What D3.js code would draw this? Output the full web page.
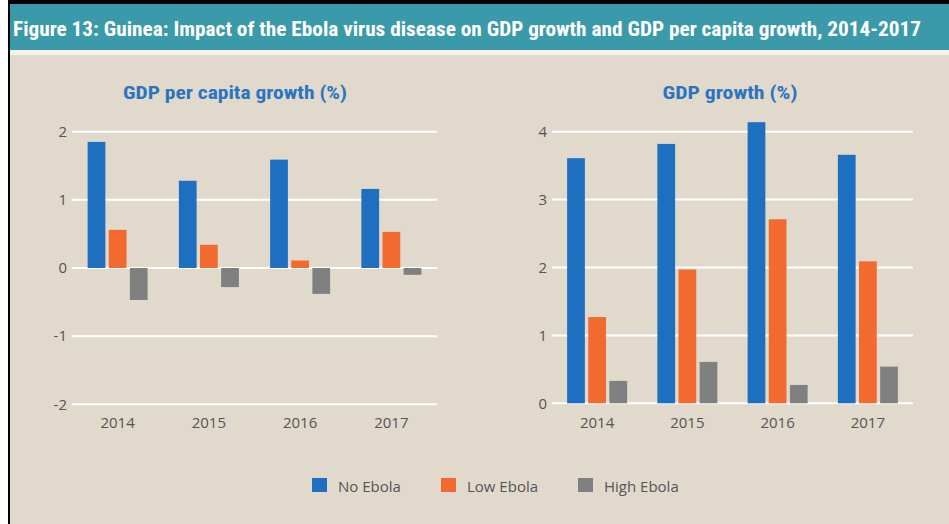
<!DOCTYPE html>
<html>
<head>
<meta charset="utf-8">
<script src="https://cdn.jsdelivr.net/npm/d3@7"></script>
<style>
html,body{margin:0;padding:0;background:#fff;}
svg{display:block;}
</style>
</head>
<body>
<svg id="chart" width="949" height="524"></svg>
<script>
const years = ["2014", "2015", "2016", "2017"];
const seriesNames = ["No Ebola", "Low Ebola", "High Ebola"];
const seriesColors = ["#1f6fc0", "#f26a30", "#808080"];

const perCapitaNoEbola = [1.85, 1.28, 1.59, 1.16];
const perCapitaLowEbola = [0.56, 0.34, 0.11, 0.53];
const perCapitaHighEbola = [-0.47, -0.28, -0.38, -0.10];

const gdpNoEbola = [3.61, 3.82, 4.14, 3.66];
const gdpLowEbola = [1.27, 1.97, 2.71, 2.09];
const gdpHighEbola = [0.33, 0.61, 0.27, 0.54];

const perCapitaTicks = [-2, -1, 0, 1, 2];
const gdpTicks = [0, 1, 2, 3, 4];

const figTitle = "Figure 13: Guinea: Impact of the Ebola virus disease on GDP growth and GDP per capita growth, 2014-2017";
const leftTitle = "GDP per capita growth (%)";
const rightTitle = "GDP growth (%)";

const svg = d3.select("#chart");

// Background panel
svg.append("rect").attr("x", 8).attr("y", 0).attr("width", 941).attr("height", 524).attr("fill", "#000");
svg.append("rect").attr("x", 10).attr("y", 52).attr("width", 939).attr("height", 472).attr("fill", "#e0d9cc");
svg.append("rect").attr("x", 10).attr("y", 50).attr("width", 939).attr("height", 5).attr("fill", "#f4f1ea");
svg.append("rect").attr("x", 10).attr("y", 4).attr("width", 939).attr("height", 46).attr("fill", "#3b9aa9");

svg.append("text")
  .attr("x", 13).attr("y", 36)
  .attr("font-family", "'Liberation Sans Narrow', 'Roboto Condensed', 'DejaVu Sans Condensed', sans-serif")
  .attr("font-weight", "bold")
  .attr("font-size", 21)
  .attr("fill", "#ffffff")
  .attr("textLength", 908)
  .attr("lengthAdjust", "spacingAndGlyphs")
  .text(figTitle);

function drawPanel(cfg) {
  const g = svg.append("g");
  const y = d3.scaleLinear().domain(cfg.domain).range([cfg.bottom, cfg.top]);
  const x0 = d3.scaleBand().domain(years).range([cfg.left, cfg.right]).paddingInner(0).paddingOuter(0);
  const groupW = 60;
  const x1 = d3.scaleBand().domain(seriesNames).range([0, groupW]).paddingInner(0.16).paddingOuter(0);

  // gridlines
  g.selectAll("line.grid").data(cfg.ticks).enter().append("line")
    .attr("x1", cfg.left).attr("x2", cfg.right)
    .attr("y1", d => y(d)).attr("y2", d => y(d))
    .attr("stroke", "#ffffff").attr("stroke-width", 2);

  // y axis labels
  const yAxis = d3.axisLeft(y).tickValues(cfg.ticks).tickSize(0).tickPadding(5).tickFormat(d => String(d));
  const ya = g.append("g").attr("transform", `translate(${cfg.left},0)`).call(yAxis);
  ya.select(".domain").remove();
  ya.selectAll("text").attr("font-family", "'Open Sans', sans-serif").attr("font-size", 15).attr("fill", "#555");

  // x axis labels
  const xAxis = d3.axisBottom(x0).tickSize(0).tickPadding(0);
  const xa = g.append("g").attr("transform", `translate(0,${cfg.xLabelY})`).call(xAxis);
  xa.select(".domain").remove();
  xa.selectAll("text").attr("font-family", "'Open Sans', sans-serif").attr("font-size", 15).attr("fill", "#555");

  // bars
  const data = [];
  years.forEach((yr, i) => {
    seriesNames.forEach((s, j) => {
      data.push({year: yr, series: s, value: cfg.values[j][i], color: seriesColors[j]});
    });
  });
  const off = (x0.bandwidth() - groupW) / 2;
  g.selectAll("rect.bar").data(data).enter().append("rect")
    .attr("x", d => x0(d.year) + off + x1(d.series))
    .attr("width", x1.bandwidth())
    .attr("y", d => y(Math.max(0, d.value)))
    .attr("height", d => Math.abs(y(d.value) - y(0)))
    .attr("fill", d => d.color);

  // title
  g.append("text")
    .attr("x", cfg.titleX).attr("y", 99)
    .attr("text-anchor", "middle")
    .attr("font-family", "'Liberation Sans Narrow', 'Roboto Condensed', sans-serif")
    .attr("font-weight", "bold")
    .attr("font-size", 19)
    .attr("fill", "#2a74c2")
    .attr("textLength", cfg.titleW)
    .attr("lengthAdjust", "spacingAndGlyphs")
    .text(cfg.title);
}

drawPanel({
  left: 72, right: 437, top: 131.7, bottom: 404.3, domain: [-2, 2],
  ticks: perCapitaTicks,
  values: [perCapitaNoEbola, perCapitaLowEbola, perCapitaHighEbola],
  xLabelY: 417, title: leftTitle, titleX: 235, titleW: 224
});

drawPanel({
  left: 552, right: 913, top: 131.7, bottom: 403.3, domain: [0, 4],
  ticks: gdpTicks,
  values: [gdpNoEbola, gdpLowEbola, gdpHighEbola],
  xLabelY: 417, title: rightTitle, titleX: 730, titleW: 135
});

// legend
const legendX = [312, 441, 578];
const lg = svg.append("g");
seriesNames.forEach((s, i) => {
  lg.append("rect").attr("x", legendX[i]).attr("y", 478).attr("width", 15).attr("height", 14).attr("fill", seriesColors[i]);
  lg.append("text").attr("x", legendX[i] + 26).attr("y", 492)
    .attr("font-family", "'Open Sans', sans-serif").attr("font-size", 15).attr("fill", "#555")
    .text(s);
});
</script>
</body>
</html>
